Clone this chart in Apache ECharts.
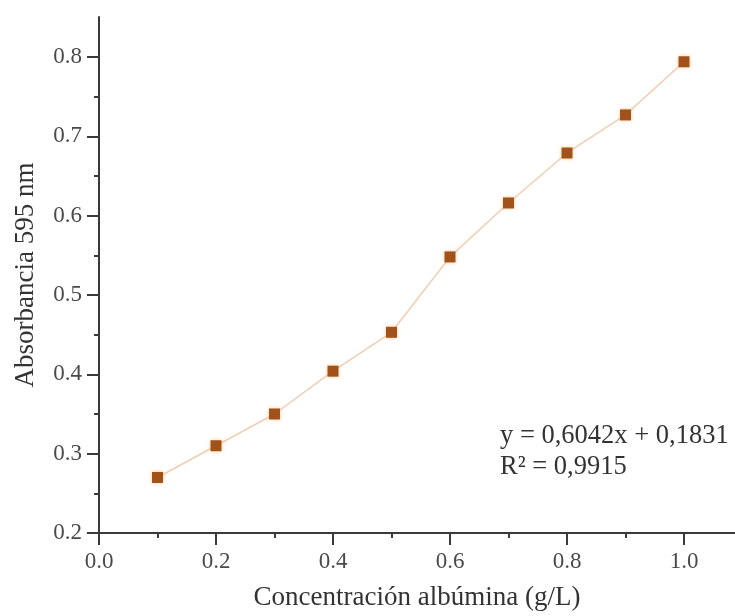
<!DOCTYPE html>
<html>
<head>
<meta charset="utf-8">
<script src="https://cdn.jsdelivr.net/npm/echarts@6/dist/echarts.min.js"></script>
<style>html,body{margin:0;padding:0;background:#fff}#c{width:735px;height:616px}</style>
</head>
<body>
<div id="c"></div>
<script>
const concentrations = [0.1, 0.2, 0.3, 0.4, 0.5, 0.6, 0.7, 0.8, 0.9, 1.0];
const absorbance = [0.270, 0.310, 0.350, 0.404, 0.453, 0.548, 0.616, 0.679, 0.727, 0.794];
const xTitle = 'Concentración albúmina (g/L)';
const yTitle = 'Absorbancia 595 nm';
const equationLines = ['y = 0,6042x + 0,1831', 'R² = 0,9915'];

const FONT = '"Liberation Serif","DejaVu Serif",serif';
const AXIS_COLOR = '#3a3a3a';
const LABEL_COLOR = '#4a4a4a';

const chart = echarts.init(document.getElementById('c'));
chart.setOption({
  backgroundColor: '#fff',
  animation: false,
  grid: [
    {left: 99, right: 51, top: 57, bottom: 83},
    {left: 99, right: 0, top: 17, bottom: 83}
  ],
  xAxis: [
    {
      type: 'value', gridIndex: 0, min: 0, max: 1.0, interval: 0.2,
      axisLine: {show: true, lineStyle: {color: AXIS_COLOR, width: 2}},
      axisTick: {show: true, length: 12, lineStyle: {color: AXIS_COLOR, width: 2}},
      minorTick: {show: true, splitNumber: 2, length: 5, lineStyle: {color: AXIS_COLOR, width: 2}},
      axisLabel: {fontFamily: FONT, fontSize: 23, color: LABEL_COLOR, margin: 17,
        formatter: v => v.toFixed(1)},
      splitLine: {show: false}
    },
    {
      type: 'value', gridIndex: 1, min: 0, max: 1,
      name: xTitle, nameLocation: 'middle', nameGap: 51,
      nameTextStyle: {fontFamily: FONT, fontSize: 27, color: '#333'},
      axisLine: {show: true, lineStyle: {color: AXIS_COLOR, width: 2}},
      axisTick: {show: false}, axisLabel: {show: false}, splitLine: {show: false}
    }
  ],
  yAxis: [
    {
      type: 'value', gridIndex: 0, min: 0.2, max: 0.8, interval: 0.1,
      axisLine: {show: true, lineStyle: {color: AXIS_COLOR, width: 2}},
      axisTick: {show: true, length: 12, lineStyle: {color: AXIS_COLOR, width: 2}},
      minorTick: {show: true, splitNumber: 2, length: 5, lineStyle: {color: AXIS_COLOR, width: 2}},
      axisLabel: {fontFamily: FONT, fontSize: 23, color: LABEL_COLOR, margin: 17,
        formatter: v => v.toFixed(1)},
      splitLine: {show: false}
    },
    {
      type: 'value', gridIndex: 1, min: 0, max: 1,
      name: yTitle, nameLocation: 'middle', nameGap: 60, nameRotate: 90,
      nameTextStyle: {fontFamily: FONT, fontSize: 27, color: '#333'},
      axisLine: {show: true, lineStyle: {color: AXIS_COLOR, width: 2}},
      axisTick: {show: false}, axisLabel: {show: false}, splitLine: {show: false}
    }
  ],
  series: [{
    type: 'line',
    xAxisIndex: 0, yAxisIndex: 0,
    data: concentrations.map((x, i) => [x, absorbance[i]]),
    symbol: 'rect', symbolSize: 11,
    lineStyle: {color: '#f3cdb3', width: 1.5},
    itemStyle: {color: '#a0521a', shadowBlur: 4, shadowColor: 'rgba(255,170,80,0.6)'},
    z: 5
  }],
  graphic: [{
    type: 'text', left: 500, top: 421,
    style: {text: equationLines.join('\n'), font: '26.5px ' + FONT, fill: '#333', lineHeight: 31}
  }]
});
</script>
</body>
</html>
